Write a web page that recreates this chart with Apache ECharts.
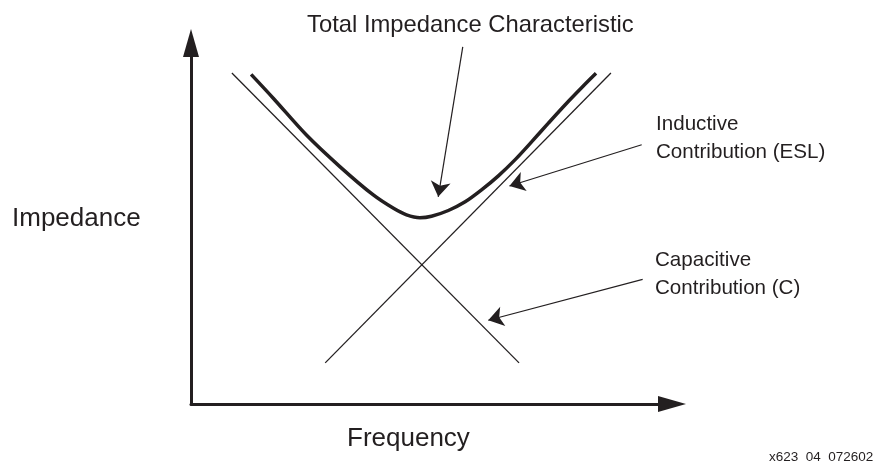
<!DOCTYPE html>
<html>
<head>
<meta charset="utf-8">
<script src="https://cdn.jsdelivr.net/npm/echarts@6/dist/echarts.min.js"></script>
<style>
  html, body { margin: 0; padding: 0; background: #fff; }
  #chart { width: 876px; height: 463px; }
</style>
</head>
<body>
<div id="chart"></div>
<script>
// normalised frequency / impedance, 0..100 on both axes
const capacitiveLine = [[8.5, 91.7], [68.2, 11.4]];
const inductiveLine = [[27.9, 11.4], [87.3, 91.7]];
const totalImpedance = [
  [12.5, 91.3], [17.1, 84.7], [24.0, 74.5], [31.0, 65.7], [37.9, 57.9],
  [42.1, 54.2], [44.8, 52.4], [47.6, 51.6], [50.0, 52.0], [53.5, 53.6],
  [57.0, 56.0], [60.4, 59.3], [63.9, 63.2], [67.4, 67.7], [70.8, 72.6],
  [74.3, 77.8], [77.8, 82.9], [81.2, 87.6], [84.2, 91.6]
];
const totalArrow = [[56.5, 98.9], [51.4, 57.4]];
const inductiveArrow = [[93.7, 71.8], [66.2, 60.4]];
const capacitiveArrow = [[93.9, 34.5], [61.8, 23.2]];

const axisNames = ['Frequency', 'Impedance'];
const annotations = ['Total Impedance Characteristic', 'Inductive\nContribution (ESL)', 'Capacitive\nContribution (C)'];
const figureId = 'x623  04  072602';

const ink = '#231f20';
const font = '"Liberation Sans", Arial, Helvetica, sans-serif';

const chart = echarts.init(document.getElementById('chart'));

function axis(min, max) {
  return {
    type: 'value', min: min, max: max,
    axisLine: { show: true, symbol: ['none', 'triangle'], symbolSize: [16, 28], lineStyle: { color: ink, width: 3 } },
    axisTick: { show: false },
    axisLabel: { show: false },
    splitLine: { show: false }
  };
}

function arrow(coords) {
  return {
    type: 'lines',
    coordinateSystem: 'cartesian2d',
    symbol: ['none', 'arrow'],
    symbolSize: [8, 15],
    lineStyle: { color: ink, width: 1.2, opacity: 1 },
    data: [{ coords: coords }],
    silent: true
  };
}

function label(text, x, y, size) {
  return {
    type: 'text', left: x, top: y,
    style: { text: text, fill: ink, font: size + 'px ' + font, lineHeight: Math.round(size * 1.36) }
  };
}

chart.setOption({
  animation: false,
  grid: { left: 191, right: 204, top: 43, bottom: 59 },
  xAxis: axis(0, 100),
  yAxis: axis(0, 100),
  series: [
    { type: 'line', data: capacitiveLine, symbol: 'none', lineStyle: { color: ink, width: 1.3 } },
    { type: 'line', data: inductiveLine, symbol: 'none', lineStyle: { color: ink, width: 1.3 } },
    { type: 'line', data: totalImpedance, symbol: 'none', smooth: 0.3, lineStyle: { color: ink, width: 3.5 } },
    arrow(totalArrow),
    arrow(inductiveArrow),
    arrow(capacitiveArrow)
  ],
  graphic: [
    label(annotations[0], 307, 9, 23.8),
    label(annotations[1], 656, 110, 20.6),
    label(annotations[2], 655, 246, 20.6),
    label(axisNames[1], 12, 201, 26),
    label(axisNames[0], 347, 421, 26),
    label(figureId, 769, 448, 13.5)
  ]
});
</script>
</body>
</html>
